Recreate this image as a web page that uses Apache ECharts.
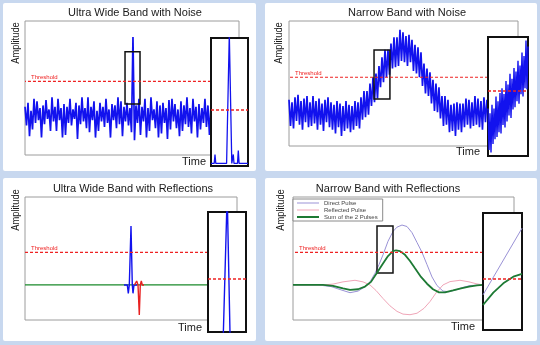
<!DOCTYPE html>
<html><head><meta charset="utf-8">
<script src="https://cdn.jsdelivr.net/npm/echarts@6/dist/echarts.min.js"></script>
<style>html,body{margin:0;padding:0;background:#c8d8ef;}#c{width:540px;height:345px;}</style>
</head><body><div id="c"></div><script>
// ---------- Panel 1: Ultra Wide Band with Noise (sample index vs amplitude) ----------
const uwbNoiseSignal = [
 3.6,2.2,3.9,1.4,3.3,1.9,4.2,2.4,4.0,2.6,
 3.5,1.3,3.7,2.3,4.1,2.7,3.4,1.8,4.3,2.5,
 3.6,1.8,4.2,2.6,3.5,1.3,3.8,1.5,3.6,2.4,
 4.2,2.2,3.4,2.7,3.9,1.2,3.7,2.3,4.3,2.5,
 3.5,2.0,4.3,1.7,3.6,2.6,4.0,1.3,3.3,1.8,
 3.9,2.5,3.6,2.1,4.2,2.4,3.4,1.3,3.8,2.6,
 3.7,2.0,4.3,2.3,4.0,1.4,3.6,2.5,3.9,2.2,
 3.5,1.7,8.8,1.1,3.7,2.4,4.2,1.5,3.6,2.5,
 4.2,1.3,3.5,1.8,4.3,2.6,3.4,2.0,4.0,1.3,
 3.7,1.6,3.9,2.4,3.5,1.2,4.1,1.9,4.2,2.5,
 3.8,2.0,3.4,1.4,4.0,1.8,3.7,2.3,4.3,2.1,
 3.5,1.6,4.2,2.5,3.6,1.3,3.8,1.9,3.5,2.4,
 4.2,2.1,3.7,1.5,3.6
];
const uwbNoiseAxisMax = 142.7;
const uwbNoiseThreshold = 5.5;
const uwbNoiseThresholdEnd = 124;
const uwbNoiseZoomBox = [66.7, 3.8, 76.7, 7.7];
const uwbNoiseInsetX = [0, 3.2, 4, 4.8, 15.6, 18.3, 20.8, 21.6, 22.3, 23.0, 26.5, 27.3, 28.1, 37];
const uwbNoiseInsetY = [0.2, 0.2, 0.9, 0.2, 0.2, 10.3, 0.2, 0.2, 0.9, 0.2, 0.2, 1.2, 0.2, 0.2];
const uwbNoiseInsetThreshold = 4.4;

// ---------- Panel 2: Narrow Band with Noise ----------
const nbNoiseSignal = [
 3.7,1.6,3.5,1.4,3.9,2.0,4.1,1.7,3.6,1.3,
 3.8,1.9,4.0,1.5,3.5,1.6,4.0,1.8,3.6,1.3,
 3.8,1.7,3.4,1.2,3.7,1.9,3.9,1.5,3.5,1.3,
 3.3,1.0,3.6,1.5,3.4,0.8,3.2,1.2,3.6,1.4,
 3.3,1.1,3.2,1.3,3.6,1.6,3.5,1.4,3.9,2.1,
 4.4,2.3,4.4,2.5,5.0,3.2,5.5,3.5,5.8,3.8,
 6.4,4.7,7.1,5.1,7.7,5.5,7.7,5.7,8.2,6.2,
 8.7,6.3,8.7,6.4,9.3,6.8,9.1,6.7,8.8,6.4,
 8.9,6.7,8.5,6.0,8.1,5.8,7.9,5.5,7.5,4.8,
 6.6,4.2,6.2,4.0,5.9,3.4,5.3,2.8,5.0,2.7,
 4.7,2.2,4.0,1.6,4.0,1.7,3.7,1.1,3.3,1.2,
 3.4,0.8,3.5,1.3,3.4,1.1,3.4,1.5,3.8,1.7,
 3.7,1.4,3.5,1.6,4.0,1.7,3.8,1.5,3.6,1.3,
 3.9,1.9,3.7
];
const nbNoiseAxisMax = 152.7;
const nbNoiseThreshold = 5.5;
const nbNoiseThresholdEnd = 132.7;
const nbNoiseZoomBox = [56.7, 3.76, 67.3, 7.68];
const nbNoiseInsetSignal = [
 4.0,0.5,3.6,0.3,4.3,1.0,4.0,1.4,5.0,1.6,
 4.6,2.0,5.3,1.9,5.7,2.6,5.2,2.4,6.3,2.9,
 6.0,3.4,6.9,3.2,6.5,3.9,7.4,4.1,7.1,4.6,
 8.0,4.4,7.6,5.2,8.7,5.0,8.4,5.7,9.7,5.6,
 9.2
];
const nbNoiseInsetThreshold = 5.5;

// ---------- Panel 3: Ultra Wide Band with Reflections ----------
const uwbReflSumX = [0, 183];
const uwbReflSumY = [2.85, 2.85];
const uwbReflDirectX = [99, 102.3, 103.3, 104.3, 106, 107.3, 108, 109, 112];
const uwbReflDirectY = [2.85, 2.85, 2.17, 2.85, 7.64, 2.85, 2.17, 2.85, 2.85];
const uwbReflReflectedX = [109.5, 110.7, 111.7, 113, 114.3, 115.3, 116.3, 117.3, 119];
const uwbReflReflectedY = [2.85, 2.85, 3.17, 2.85, 0.41, 2.85, 3.17, 2.85, 2.85];
const uwbReflThreshold = 5.5;
const uwbReflThresholdEnd = 183;
const uwbReflInsetX = [15.2, 19.2, 22.1];
const uwbReflInsetY = [-0.5, 11.5, -0.5];
const uwbReflInsetThreshold = 4.4;

// ---------- Panel 4: Narrow Band with Reflections ----------
const nbReflDirectX = [0,25,38,48,57,65,72,77,82,86,90,95,100,104,109,114,119,124,129,134,139,144,150,156,163,170,177,190];
const nbReflDirectY = [2.85,2.85,2.72,2.45,2.22,2.35,2.7,3.1,3.8,4.5,5.3,6.4,7.2,7.55,7.72,7.6,7.1,6.3,5.5,4.5,3.5,2.8,2.35,2.3,2.45,2.65,2.8,2.85];
const nbReflReflectedX = [0,30,40,50,62,70,77,83,90,97,104,110,117,124,131,137,143,150,157,167,176,183,190];
const nbReflReflectedY = [2.85,2.85,2.92,3.1,3.23,3.1,2.85,2.4,1.75,1.15,0.7,0.48,0.43,0.55,0.95,1.5,2.2,2.85,3.12,3.23,3.1,2.95,2.85];
const nbReflSumX = [0,30,40,50,57,65,72,78,84,90,95,100,103,107,112,117,122,128,134,140,146,152,160,168,176,184,190];
const nbReflSumY = [2.85,2.85,2.78,2.58,2.45,2.5,2.72,3.1,3.85,4.6,5.2,5.6,5.67,5.6,5.3,4.8,4.2,3.5,2.95,2.5,2.25,2.25,2.4,2.58,2.72,2.82,2.85];
const nbReflThreshold = 5.5;
const nbReflThresholdEnd = 190;
const nbReflZoomBox = [84, 3.82, 100, 7.64];
const nbReflInsetDirectX = [0, 39];
const nbReflInsetDirectY = [3.0, 8.7];
const nbReflInsetSumX = [0, 10.3, 20.3, 30.3, 39];
const nbReflInsetSumY = [2.14, 3.19, 3.99, 4.56, 4.79];
const nbReflInsetThreshold = 4.42;

const titles = ['Ultra Wide Band with Noise', 'Narrow Band with Noise', 'Ultra Wide Band with Reflections', 'Narrow Band with Reflections'];
const legendNames = ['Direct Pulse', 'Reflected Pulse', 'Sum of the 2 Pulses'];

// ---------- styling ----------
const FONT = '"Liberation Sans", Arial, sans-serif';
const BLUE = '#1212ee';
const RED = '#ee2222';
const GREEN = '#1d7a34';
const PURPLE = '#9a92d6';
const PINK = '#f0a6b8';

const indexed = ys => ys.map((v, i) => [i, v]);
const zip = (xs, ys) => xs.map((x, i) => [x, ys[i]]);

function insetMark(y) {
  return {
    silent: true, symbol: ['none', 'none'], z: 7, animation: false,
    lineStyle: { color: RED, type: [3, 2], width: 1.5 },
    label: { show: false }, emphasis: { disabled: true },
    data: [{ yAxis: y, lineStyle: { color: RED, type: [3, 2], width: 1.5 } }]
  };
}
function zoomMark(b) {
  return {
    silent: true, z: 3, animation: false,
    itemStyle: { color: 'rgba(0,0,0,0)', borderColor: '#111', borderWidth: 1.5 },
    emphasis: { disabled: true },
    data: [[{ coord: [b[0], b[1]] }, { coord: [b[2], b[3]] }]]
  };
}
function line(name, gi, data, color, width, z, extra) {
  return Object.assign({
    name, type: 'line', xAxisIndex: gi, yAxisIndex: gi, data,
    symbol: 'none', showSymbol: false, silent: true, animation: false, clip: true, z,
    lineStyle: { color, width }, itemStyle: { color },
    emphasis: { disabled: true }
  }, extra || {});
}
// threshold drawn from right to left so that its end label sits at the left end
function thresholdSeries(gi, y, x0, x1) {
  return {
    name: 'Threshold ' + gi, type: 'line', xAxisIndex: gi, yAxisIndex: gi,
    data: [[x1, y], [x0, y]],
    symbol: 'none', showSymbol: false, silent: true, animation: false, z: 4,
    color: RED,
    lineStyle: { color: RED, width: 1.2, type: [3, 2] }, itemStyle: { color: RED },
    endLabel: { show: true, formatter: 'Threshold', color: RED, fontSize: 6, fontFamily: FONT,
      align: 'left', verticalAlign: 'bottom', distance: 0, offset: [6, -1] },
    emphasis: { disabled: true }
  };
}

const grids = [
  { left: 25, top: 21, width: 214, height: 134, main: true },
  { left: 211, top: 38, width: 37, height: 128 },
  { left: 289, top: 21, width: 229, height: 125, main: true },
  { left: 488, top: 37, width: 40, height: 119 },
  { left: 25, top: 197, width: 212, height: 123, main: true },
  { left: 208, top: 212, width: 38, height: 120 },
  { left: 293, top: 197, width: 221, height: 123, main: true },
  { left: 483, top: 213, width: 39, height: 117 }
].map(g => ({
  left: g.left, top: g.top, width: g.width, height: g.height, show: true,
  backgroundColor: g.main ? 'transparent' : '#ffffff',
  borderColor: g.main ? '#9c9c9c' : '#111111', borderWidth: g.main ? 1 : 2,
  z: g.main ? 1 : 5, containLabel: false
}));

const xMax = [uwbNoiseAxisMax, 37, nbNoiseAxisMax, 40, 212, 38, 221, 39];
const xAxes = xMax.map((m, i) => ({ type: 'value', gridIndex: i, min: 0, max: m, show: false }));
const yAxes = xMax.map((m, i) => ({ type: 'value', gridIndex: i, min: 0, max: 10, show: false }));

const series = [
  thresholdSeries(0, uwbNoiseThreshold, 0, uwbNoiseThresholdEnd),
  line('UWB noisy signal', 0, indexed(uwbNoiseSignal), BLUE, 1.7, 2, { markArea: zoomMark(uwbNoiseZoomBox) }),
  line('UWB noisy zoom', 1, zip(uwbNoiseInsetX, uwbNoiseInsetY), BLUE, 1.3, 6, { markLine: insetMark(uwbNoiseInsetThreshold) }),
  thresholdSeries(2, nbNoiseThreshold, 0, nbNoiseThresholdEnd),
  line('NB noisy signal', 2, indexed(nbNoiseSignal), BLUE, 1.7, 2, { markArea: zoomMark(nbNoiseZoomBox) }),
  line('NB noisy zoom', 3, indexed(nbNoiseInsetSignal), BLUE, 1.4, 6, { markLine: insetMark(nbNoiseInsetThreshold) }),
  line('UWB sum', 4, zip(uwbReflSumX, uwbReflSumY), '#1a8a2a', 1.2, 2),
  thresholdSeries(4, uwbReflThreshold, 0, uwbReflThresholdEnd),
  line('UWB direct', 4, zip(uwbReflDirectX, uwbReflDirectY), BLUE, 1.4, 3),
  line('UWB reflected', 4, zip(uwbReflReflectedX, uwbReflReflectedY), '#e82020', 1.4, 3),
  line('UWB refl zoom', 5, zip(uwbReflInsetX, uwbReflInsetY), BLUE, 1.4, 6, { markLine: insetMark(uwbReflInsetThreshold) }),
  line(legendNames[0], 6, zip(nbReflDirectX, nbReflDirectY), PURPLE, 1, 2),
  line(legendNames[1], 6, zip(nbReflReflectedX, nbReflReflectedY), PINK, 1, 2),
  thresholdSeries(6, nbReflThreshold, 0, nbReflThresholdEnd),
  line(legendNames[2], 6, zip(nbReflSumX, nbReflSumY), GREEN, 1.8, 3, { markArea: zoomMark(nbReflZoomBox) }),
  line('NB direct zoom', 7, zip(nbReflInsetDirectX, nbReflInsetDirectY), PURPLE, 1, 6),
  line('NB sum zoom', 7, zip(nbReflInsetSumX, nbReflInsetSumY), GREEN, 1.8, 6, { markLine: insetMark(nbReflInsetThreshold) })
];

const titleCenters = [[135, 7], [407, 7], [133, 183], [388, 183]];
const title = titles.map((t, i) => ({
  text: t, left: titleCenters[i][0], top: titleCenters[i][1], padding: 0,
  textAlign: 'center', textVerticalAlign: 'top',
  textStyle: { fontSize: 11, fontWeight: 'normal', color: '#1a1a1a', fontFamily: FONT }
}));

const panelRects = [[3, 3, 253, 168], [265, 3, 272, 168], [3, 178, 253, 163], [265, 178, 272, 163]];
const ampPos = [[16, 43], [279, 43], [16, 210], [281, 210]];
const timePos = [[194, 162], [468, 152], [190, 328], [463, 327]];
const graphic = [].concat(
  panelRects.map(r => ({ type: 'rect', z: -10, silent: true, shape: { x: r[0], y: r[1], width: r[2], height: r[3], r: 2 }, style: { fill: '#ffffff' } })),
  ampPos.map(p => ({ type: 'text', z: 10, silent: true, x: p[0], y: p[1], rotation: Math.PI / 2, scaleX: 0.85,
    style: { text: 'Amplitude', fill: '#1a1a1a', fontSize: 11, fontFamily: FONT, align: 'center', verticalAlign: 'middle' } })),
  timePos.map(p => ({ type: 'text', z: 10, silent: true, x: p[0], y: p[1],
    style: { text: 'Time', fill: '#1a1a1a', fontSize: 11, fontFamily: FONT, align: 'center', verticalAlign: 'middle' } }))
);

const thinIcon = 'path://M0,0H22V1H0Z';
const thickIcon = 'path://M0,0H22V2H0Z';

const chart = echarts.init(document.getElementById('c'), null, { renderer: 'canvas' });
chart.setOption({
  animation: false,
  backgroundColor: '#c8d8ef',
  title, graphic,
  legend: {
    data: [
      { name: legendNames[0], icon: thinIcon },
      { name: legendNames[1], icon: thinIcon },
      { name: legendNames[2], icon: thickIcon }
    ],
    left: 293, top: 199, orient: 'vertical', symbolKeepAspect: true,
    itemWidth: 22, itemHeight: 5, itemGap: 1, padding: [1, 5, 1, 4],
    borderColor: '#8a8a8a', borderWidth: 1, backgroundColor: '#ffffff',
    textStyle: { fontSize: 6, color: '#444', fontFamily: FONT }, selectedMode: false, z: 8
  },
  grid: grids, xAxis: xAxes, yAxis: yAxes, series
});
</script></body></html>
